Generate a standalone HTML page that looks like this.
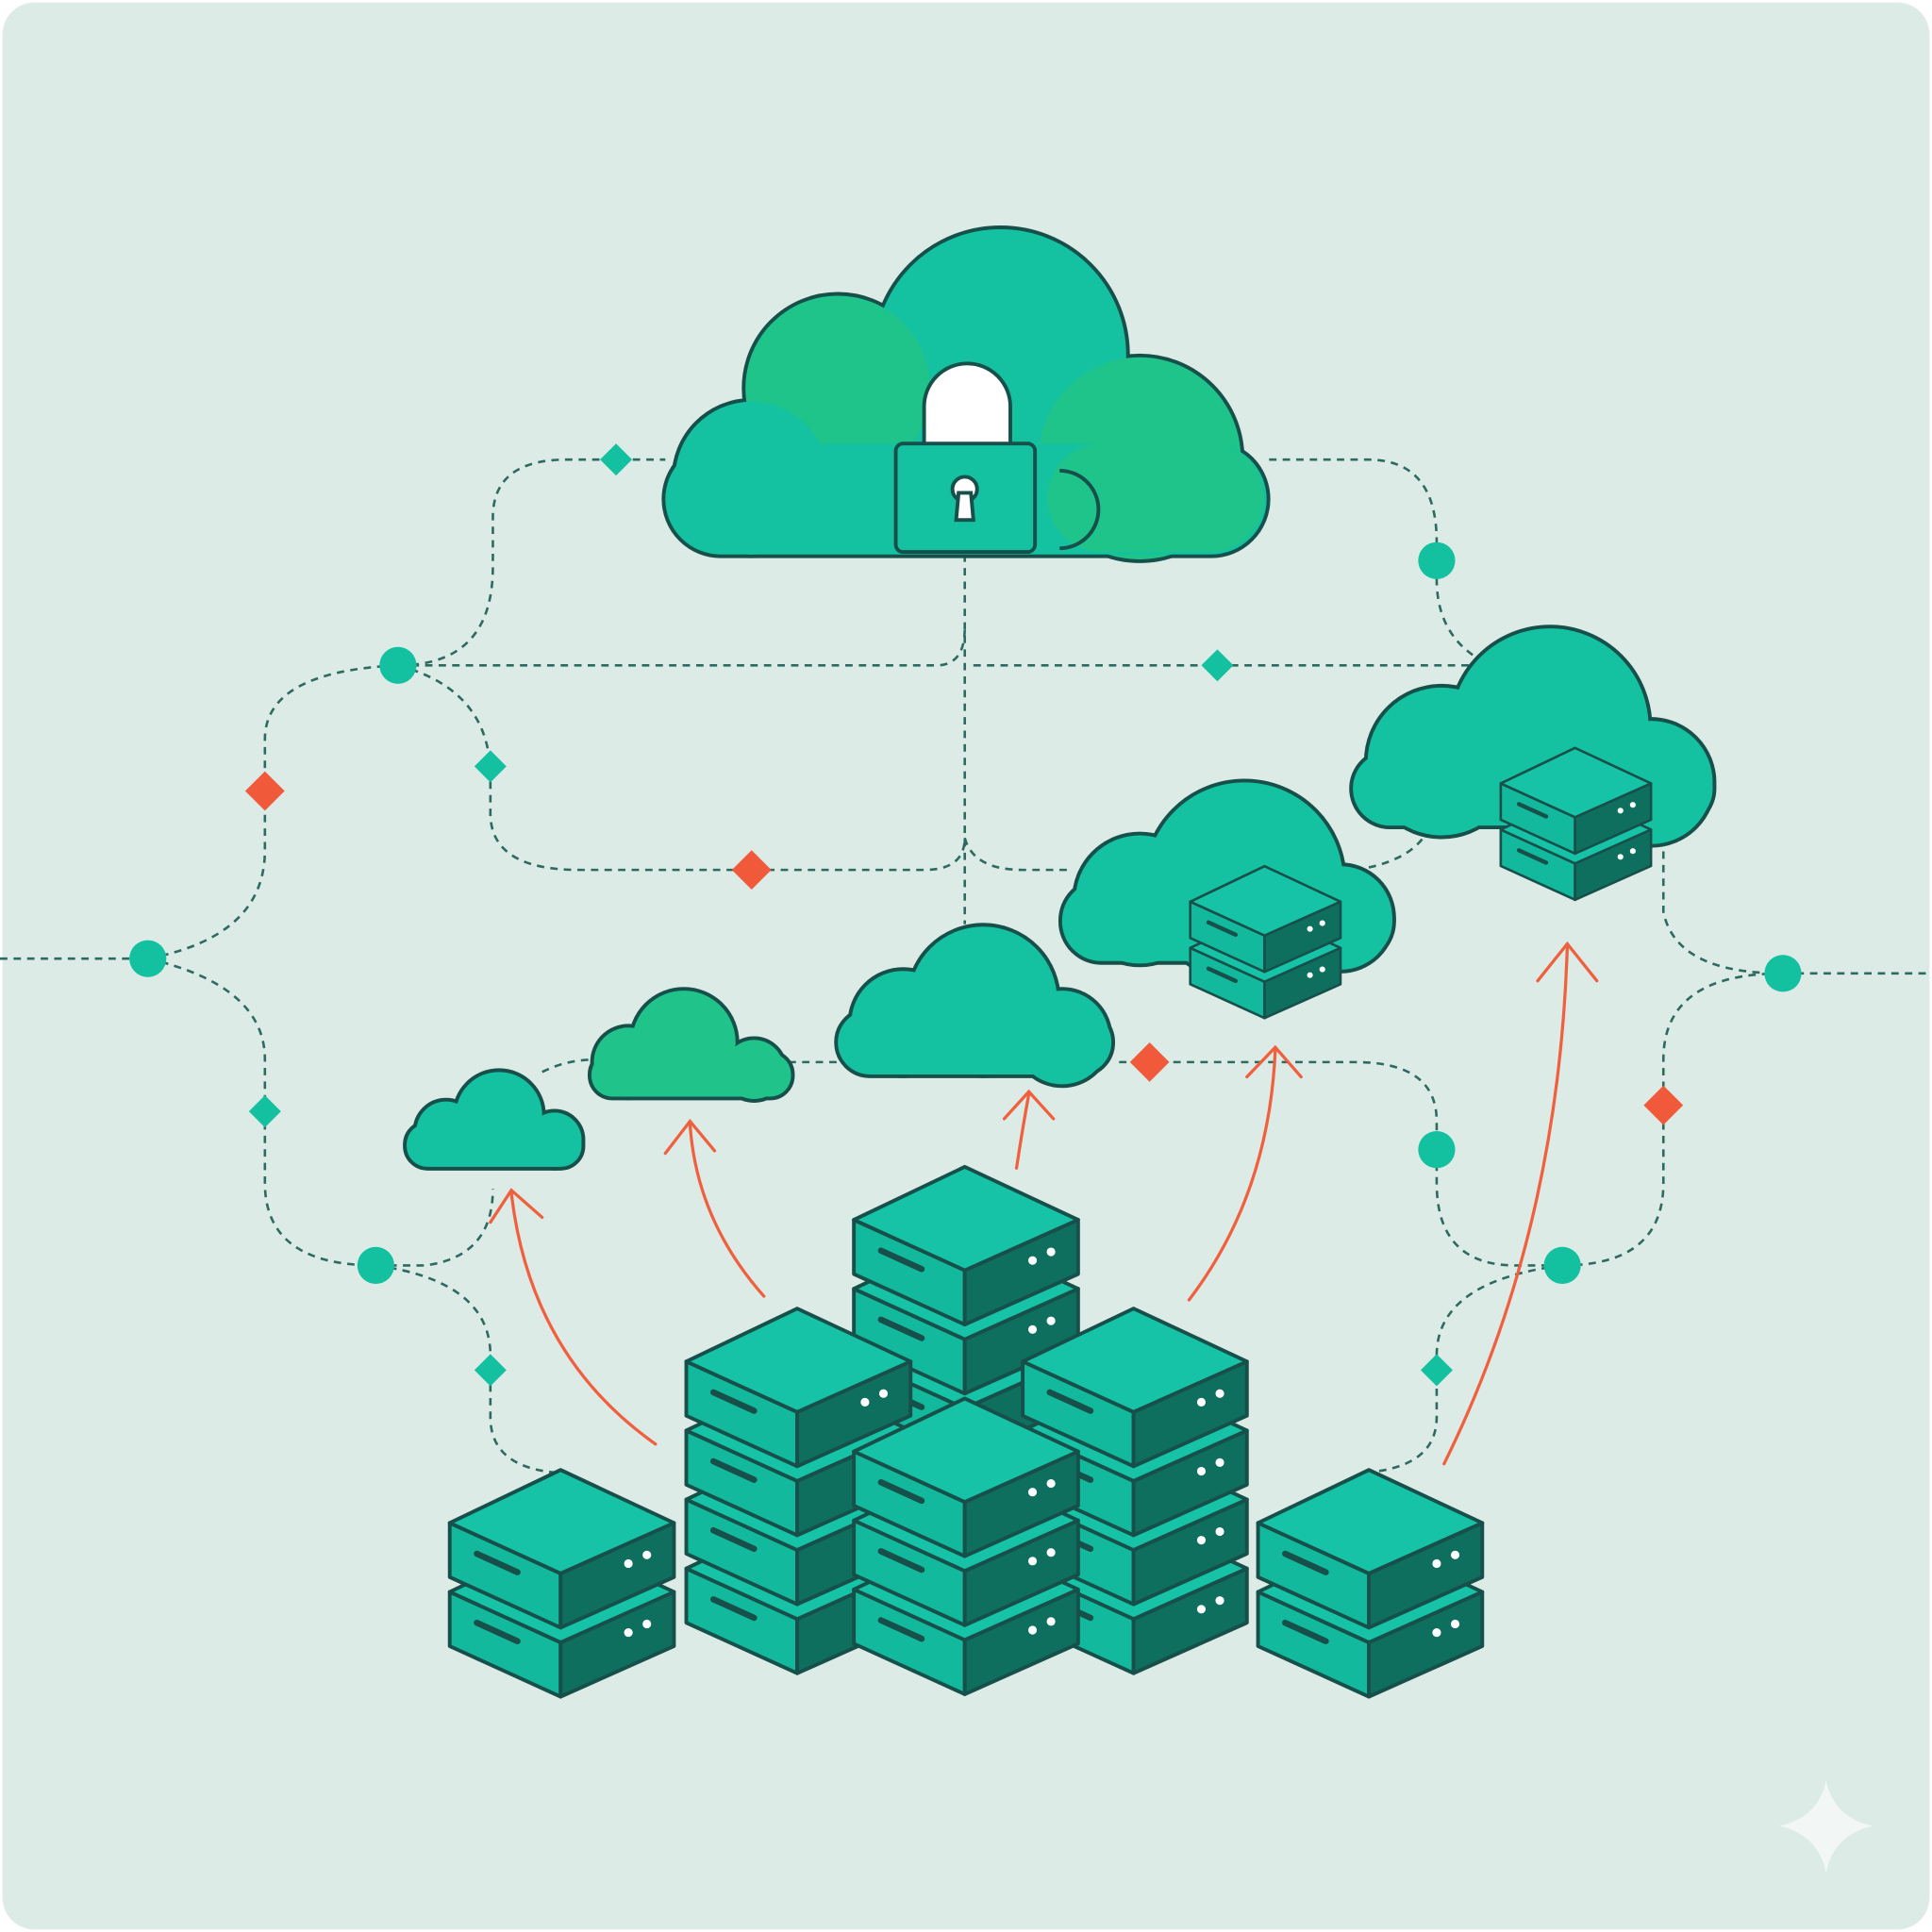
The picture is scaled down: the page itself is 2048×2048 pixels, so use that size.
<!DOCTYPE html>
<html><head><meta charset="utf-8"><style>html,body{margin:0;padding:0;background:#fff}svg{display:block}</style></head>
<body>
<svg width="2048" height="2048" viewBox="0 0 1568 1568" xmlns="http://www.w3.org/2000/svg" xmlns:xlink="http://www.w3.org/1999/xlink">
<defs>
<g id="slab" stroke="#17504a" stroke-width="3" stroke-linejoin="round">
<path d="M0,43 L90,84 L90,128 L0,87 Z" fill="#12b99c"/>
<path d="M90,84 L182,43 L182,87 L90,128 Z" fill="#0f6f5f"/>
<path d="M0,43 L90,0 L182,43 L90,84 Z" fill="#17c3a6"/>
<path d="M22,68 L55,83" stroke-width="5" stroke-linecap="round"/>
<circle cx="145" cy="76" r="3.5" fill="#fff" stroke="none"/>
<circle cx="160" cy="69" r="3.5" fill="#fff" stroke="none"/>
</g>
</defs>
<rect x="0" y="0" width="1568" height="1568" fill="#ffffff"/>
<rect x="2" y="2" width="1564" height="1564" rx="26" fill="#dcebe6"/>

<g fill="none" stroke="#2e6a60" stroke-width="2" stroke-dasharray="6 5">
<path d="M0,778 H120"/>
<path d="M1447,790 H1568"/>
<path d="M120,778 Q215,760 215,690 V600 Q215,545 323,540"/>
<path d="M120,778 Q215,800 215,860 V960 Q215,1027 305,1027"/>
<path d="M323,540 H760 Q783,540 783,510"/>
<path d="M783,450 V750"/>
<path d="M323,540 Q400,540 400,460 V420 Q400,373 460,373 H540"/>
<path d="M323,540 Q398,560 398,630 V660 Q398,706 470,706 H750 Q783,706 783,680"/>
<path d="M1030,373 H1110 Q1166,373 1166,440 V470 Q1166,520 1210,540"/>
<path d="M790,540 H1205"/>
<path d="M783,680 Q790,706 830,706 H870"/>
<path d="M1100,706 Q1140,700 1155,680"/>
<path d="M1350,680 V740 Q1360,790 1447,790"/>
<path d="M1447,790 Q1350,790 1350,860 V960 Q1350,1027 1268,1027"/>
<path d="M1268,1027 H1230 Q1166,1027 1166,960 V910 Q1166,862 1100,862 H905"/>
<path d="M1268,1027 Q1166,1040 1166,1100 V1150 Q1166,1190 1110,1195"/>
<path d="M305,1027 H345 Q400,1020 400,965"/>
<path d="M305,1027 Q398,1040 398,1100 V1150 Q398,1190 450,1195"/>
<path d="M440,870 Q460,860 482,860"/>
<path d="M640,862 H682"/>
</g>

<g fill="#13c0a0">
<circle cx="120" cy="778" r="15"/><circle cx="323" cy="540" r="15"/><circle cx="305" cy="1027" r="15"/>
<circle cx="1166" cy="455" r="15"/><circle cx="1447" cy="790" r="15"/><circle cx="1166" cy="933" r="15"/><circle cx="1268" cy="1027" r="15"/>
<path d="M500,360 L513,373 L500,386 L487,373Z"/>
<path d="M398,609 L411,622 L398,635 L385,622Z"/>
<path d="M988,527 L1001,540 L988,553 L975,540Z"/>
<path d="M215,889 L228,902 L215,915 L202,902Z"/>
<path d="M398,1099 L411,1112 L398,1125 L385,1112Z"/>
<path d="M1166,1099 L1179,1112 L1166,1125 L1153,1112Z"/>
</g>
<g fill="#f05a3a">
<path d="M215,626 L231,642 L215,658 L199,642Z"/>
<path d="M610,690 L626,706 L610,722 L594,706Z"/>
<path d="M933,846 L949,862 L933,878 L917,862Z"/>
<path d="M1350,881 L1366,897 L1350,913 L1334,897Z"/>
</g>

<g stroke="#17504a" stroke-width="3">
<g>
<g stroke-width="6"><circle cx="812" cy="288" r="102"/><circle cx="680" cy="315" r="75"/><circle cx="925" cy="372" r="82"/><circle cx="610" cy="388" r="62"/><rect x="540" y="360" width="488" height="90" rx="45"/></g>
<g stroke="none"><circle cx="812" cy="288" r="102" fill="#14c2a2"/><circle cx="680" cy="315" r="75" fill="#1ec48a"/><circle cx="925" cy="372" r="82" fill="#1ec48a"/><circle cx="610" cy="388" r="62" fill="#14c2a2"/><rect x="540" y="360" width="488" height="90" rx="45" fill="#14c2a2"/><rect x="850" y="360" width="176" height="88" rx="44" fill="#1ec48a"/></g>
<path d="M860,382 A30,30 0 0 1 860,445" fill="none"/>
<path d="M750,362 V330 A35,35 0 0 1 820,330 V362 Z" fill="#ffffff" stroke="#17504a" stroke-width="3"/>
<rect x="727" y="360" width="113" height="88" rx="6" fill="#14c2a2"/>
<circle cx="783" cy="397" r="10" fill="#fff"/><path d="M778,400 L776,422 H790 L788,400Z" fill="#fff"/>
</g>
<g>
<g stroke-width="6"><circle cx="1258" cy="590" r="80"/><circle cx="1170" cy="618" r="60"/><circle cx="1340" cy="635" r="50"/><rect x="1098" y="610" width="292" height="60" rx="30"/></g>
<g stroke="none" fill="#14c2a2"><circle cx="1258" cy="590" r="80"/><circle cx="1170" cy="618" r="60"/><circle cx="1340" cy="635" r="50"/><rect x="1098" y="610" width="292" height="60" rx="30"/></g>
</g>
<g>
<g stroke-width="6"><circle cx="1010" cy="715" r="80"/><circle cx="925" cy="730" r="52"/><circle cx="1088" cy="745" r="42"/><rect x="862" y="715" width="268" height="65" rx="32"/></g>
<g stroke="none" fill="#14c2a2"><circle cx="1010" cy="715" r="80"/><circle cx="925" cy="730" r="52"/><circle cx="1088" cy="745" r="42"/><rect x="862" y="715" width="268" height="65" rx="32"/></g>
</g>
<g>
<g stroke-width="6"><circle cx="798" cy="812" r="60"/><circle cx="733" cy="830" r="42"/><circle cx="862" cy="842" r="38"/><rect x="680" y="820" width="222" height="52" rx="26"/></g>
<g stroke="none" fill="#14c2a2"><circle cx="798" cy="812" r="60"/><circle cx="733" cy="830" r="42"/><circle cx="862" cy="842" r="38"/><rect x="680" y="820" width="222" height="52" rx="26"/></g>
</g>
<g>
<g stroke-width="6"><circle cx="555" cy="846" r="42"/><circle cx="510" cy="862" r="28"/><circle cx="612" cy="868" r="24"/><rect x="480" y="855" width="162" height="35" rx="17"/></g>
<g stroke="none" fill="#20c48a"><circle cx="555" cy="846" r="42"/><circle cx="510" cy="862" r="28"/><circle cx="612" cy="868" r="24"/><rect x="480" y="855" width="162" height="35" rx="17"/></g>
</g>
<g>
<g stroke-width="6"><circle cx="405" cy="905" r="35"/><circle cx="362" cy="918" r="24"/><circle cx="450" cy="925" r="22"/><rect x="330" y="912" width="142" height="35" rx="17"/></g>
<g stroke="none" fill="#14c2a2"><circle cx="405" cy="905" r="35"/><circle cx="362" cy="918" r="24"/><circle cx="450" cy="925" r="22"/><rect x="330" y="912" width="142" height="35" rx="17"/></g>
</g>
</g>

<g transform="translate(966,703) scale(0.67)"><use xlink:href="#slab" y="56"/><use xlink:href="#slab"/></g>
<g transform="translate(1218,607) scale(0.67)"><use xlink:href="#slab" y="56"/><use xlink:href="#slab"/></g>

<g fill="none" stroke="#f0603e" stroke-width="2.5" stroke-linecap="round">
<path d="M532,1172 Q430,1100 415,968"/><path d="M398,992 L415,966 L440,988"/>
<path d="M620,1052 Q565,990 560,912"/><path d="M540,936 L560,910 L580,934"/>
<path d="M825,948 Q830,915 835,888"/><path d="M815,908 L835,886 L855,908"/>
<path d="M965,1055 Q1030,970 1035,852"/><path d="M1012,874 L1035,850 L1056,874"/>
<path d="M1172,1188 Q1265,1000 1272,768"/><path d="M1248,796 L1272,766 L1296,796"/>
</g>

<g transform="translate(693,947)"><use xlink:href="#slab" y="168"/><use xlink:href="#slab" y="112"/><use xlink:href="#slab" y="56"/><use xlink:href="#slab"/></g>
<g transform="translate(557,1062)"><use xlink:href="#slab" y="168"/><use xlink:href="#slab" y="112"/><use xlink:href="#slab" y="56"/><use xlink:href="#slab"/></g>
<g transform="translate(830,1062)"><use xlink:href="#slab" y="168"/><use xlink:href="#slab" y="112"/><use xlink:href="#slab" y="56"/><use xlink:href="#slab"/></g>
<g transform="translate(693,1135)"><use xlink:href="#slab" y="112"/><use xlink:href="#slab" y="56"/><use xlink:href="#slab"/></g>
<g transform="translate(365,1193)"><use xlink:href="#slab" y="56"/><use xlink:href="#slab"/></g>
<g transform="translate(1021,1193)"><use xlink:href="#slab" y="56"/><use xlink:href="#slab"/></g>

<path d="M1482,1445 Q1488,1475 1520,1482 Q1488,1489 1482,1520 Q1476,1489 1444,1482 Q1476,1475 1482,1445Z" fill="#f2f7f5"/>
</svg>
</body></html>
